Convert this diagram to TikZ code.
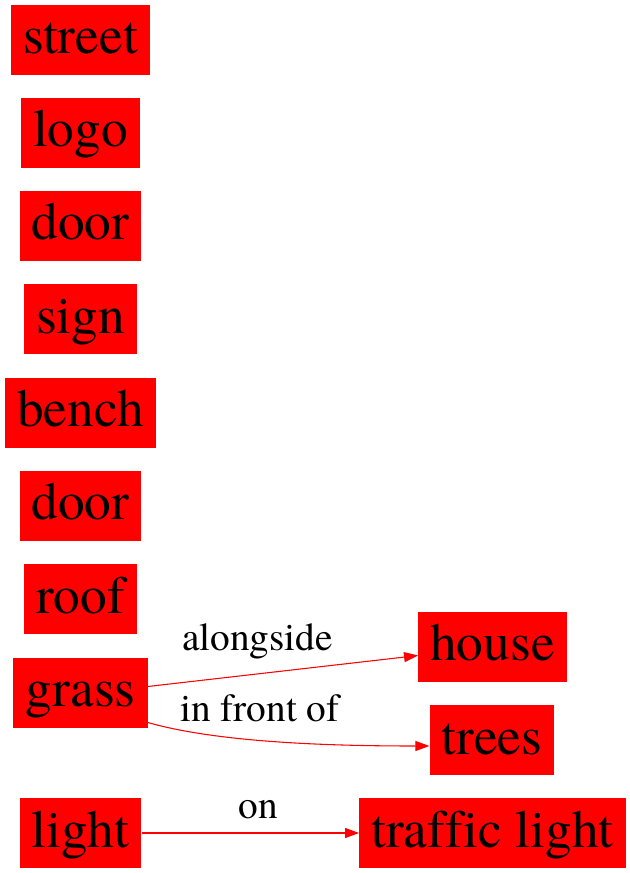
\documentclass[tikz,border=0pt]{standalone}
\usepackage{fontspec}
\setmainfont{TeX Gyre Termes}[Ligatures=CommonOff]
\usetikzlibrary{arrows.meta,calc}
\tikzset{
  box/.style={fill=red, draw=none, inner xsep=9pt, inner ysep=0pt,
    minimum height=52.5pt, text height=28.5pt, text depth=7.5pt,
    font=\fontsize{40}{48}\selectfont, text=black},
  edge/.style={draw=red, line width=0.8pt, -{Triangle[length=10.5pt,width=7.5pt]}},
  elabel/.style={font=\fontsize{29.5}{35}\selectfont, text=black, inner sep=0pt}
}
\begin{document}
\begin{tikzpicture}[x=0.75pt,y=-0.75pt]
\useasboundingbox (0,0) rectangle (629,873);
\node[box] (street) at (80.5,40) {street};
\node[box] (logo) at (80.5,133) {logo};
\node[box] (door1) at (80.5,226) {door};
\node[box] (sign) at (80.5,319) {sign};
\node[box] (bench) at (80.5,412.5) {bench};
\node[box] (door2) at (80.5,505.5) {door};
\node[box] (roof) at (80.5,599) {roof};
\node[box] (grass) at (80.5,692.5) {grass};
\node[box] (light) at (80.5,833) {light};
\node[box] (house) at (492.5,646.5) {house};
\node[box] (trees) at (492,740) {trees};
\node[box] (tlight) at (492.5,833) {traffic light};
\draw[edge] ([yshift=4.5pt]grass.east) -- ([yshift=-6.75pt]house.west);
\draw[edge] ([yshift=-22.5pt]grass.east) .. controls +(70,20) and +(-100,0) .. ([yshift=-4.5pt]trees.west);
\draw[edge] (light.east) -- (tlight.west);
\node[elabel] (l1) at (257.5,641) {alongside};
\node[elabel] (l2) at (260,708) {in front of};
\node[elabel] (l3) at (258,810) {on};
\end{tikzpicture}
\end{document}
